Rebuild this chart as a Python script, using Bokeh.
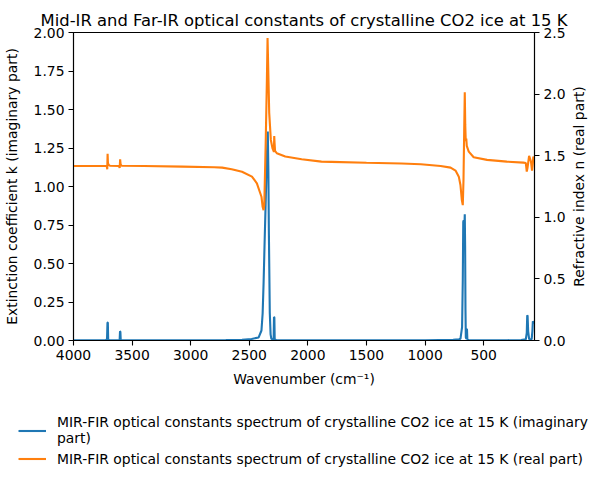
import math
from bokeh.plotting import figure
from bokeh.layouts import column, row
from bokeh.models import (Range1d, LinearAxis, Legend, LegendItem, FixedTicker,
                          PrintfTickFormatter, Label)
from bokeh.embed import file_html
from bokeh.resources import INLINE

title_text = "Mid-IR and Far-IR optical constants of crystalline CO2 ice at 15 K"
x_label = "Wavenumber (cm\u207b\u00b9)"
k_label = "Extinction coefficient k (imaginary part)"
n_label = "Refractive index n (real part)"
k_legend = "MIR-FIR optical constants spectrum of crystalline CO2 ice at 15 K (imaginary\npart)"
n_legend = "MIR-FIR optical constants spectrum of crystalline CO2 ice at 15 K (real part)"

x_ticks = [4000, 3500, 3000, 2500, 2000, 1500, 1000, 500]
k_ticks = [0.0, 0.25, 0.5, 0.75, 1.0, 1.25, 1.5, 1.75, 2.0]
n_ticks = [0.0, 0.5, 1.0, 1.5, 2.0, 2.5]

# imaginary part k (left axis)
wn_k = [4000, 3800, 3725, 3714, 3710, 3707, 3704, 3695, 3612, 3606, 3603, 3600, 3597, 3590,
        3000, 2700, 2562, 2480, 2420, 2396, 2386, 2378, 2370, 2359, 2350, 2342, 2337, 2333,
        2325, 2318, 2312, 2300, 2292, 2289, 2286, 2283, 2270, 2000, 1000, 760, 710, 698,
        684, 678, 674, 670, 666, 661, 658, 655, 652, 647, 645, 642, 639, 630, 300, 180,
        140, 132, 128, 125, 120, 112, 100, 90, 84, 80, 76, 70, 66]
k_vals = [0.002, 0.002, 0.003, 0.008, 0.117, 0.117, 0.006, 0.002, 0.002, 0.006, 0.059, 0.057, 0.004, 0.002,
          0.002, 0.003, 0.005, 0.010, 0.020, 0.065, 0.175, 0.37, 0.61, 0.93, 1.19, 1.357, 1.10, 0.72,
          0.18, 0.04, 0.012, 0.006, 0.008, 0.152, 0.150, 0.006, 0.003, 0.002, 0.002, 0.004, 0.008, 0.011,
          0.087, 0.39, 0.77, 0.78, 0.70, 0.819, 0.61, 0.20, 0.02, 0.01, 0.076, 0.07, 0.008, 0.003, 0.002, 0.003,
          0.008, 0.05, 0.163, 0.16, 0.06, 0.01, 0.006, 0.01, 0.06, 0.124, 0.12, 0.115, 0.11]

# real part n (right axis)
wn_n = [4000, 3800, 3720, 3714, 3712, 3709, 3706, 3700, 3690, 3612, 3606, 3602, 3598, 3590,
        3400, 3070, 2800, 2731, 2650, 2562, 2477, 2435, 2396, 2386, 2378, 2372, 2360, 2350,
        2344, 2338, 2330, 2316, 2302, 2293, 2290, 2287, 2284, 2280, 2265, 2193, 2053, 1884,
        1800, 1500, 1200, 1036, 867, 782, 740, 712, 698, 686, 678, 672, 666, 661, 657, 653,
        650, 648, 644, 627, 585, 471, 302, 161, 140, 132, 126, 112, 102, 96, 87, 80, 76, 70, 66]
n_vals = [1.417, 1.417, 1.418, 1.405, 1.39, 1.515, 1.44, 1.425, 1.419, 1.416, 1.40, 1.471, 1.43, 1.418,
          1.416, 1.411, 1.406, 1.403, 1.39, 1.370, 1.33, 1.276, 1.167, 1.085, 1.058, 1.10, 1.60, 2.10,
          2.456, 2.20, 1.85, 1.628, 1.56, 1.54, 1.53, 1.66, 1.60, 1.54, 1.52, 1.493, 1.471, 1.452,
          1.450, 1.443, 1.437, 1.430, 1.417, 1.403, 1.379, 1.33, 1.262, 1.14, 1.099, 1.30, 1.70, 2.014, 1.75, 1.628,
          1.62, 1.64, 1.58, 1.533, 1.487, 1.466, 1.452, 1.444, 1.44, 1.371, 1.40, 1.498, 1.47, 1.452, 1.379, 1.44,
          1.493, 1.47, 1.45]

FONT = "DejaVu Sans"
TICK = "13.9px"
BLUE = "#1f77b4"
ORANGE = "#ff7f0e"

MAIN_H = 400

p = figure(width=568, height=MAIN_H, output_backend="svg", toolbar_location=None,
           x_range=Range1d(4000, 66), y_range=Range1d(0, 2),
           min_border_left=70, min_border_right=34, min_border_top=32, min_border_bottom=60,
           title=title_text)
p.frame_align = False
p.extra_y_ranges = {"n": Range1d(0, 2.5)}

p.title.text_font = FONT
p.title.text_font_size = "16.4px"
p.title.text_font_style = "normal"
p.title.text_color = "black"
p.title.align = "center"
p.title.standoff = 5

p.xgrid.visible = False
p.ygrid.visible = False
p.outline_line_color = "black"
p.outline_line_alpha = 1
p.outline_line_width = 1.1
p.background_fill_color = "white"
p.border_fill_color = "white"


def style(ax):
    ax.axis_line_color = "black"
    ax.axis_line_width = 1.1
    ax.major_tick_line_color = "black"
    ax.major_tick_line_width = 1.1
    ax.major_tick_out = 5
    ax.major_tick_in = 0
    ax.minor_tick_line_color = None
    ax.major_label_text_font = FONT
    ax.major_label_text_font_size = TICK
    ax.major_label_text_color = "black"
    ax.major_label_standoff = 4
    ax.axis_label_text_font = FONT
    ax.axis_label_text_font_size = TICK
    ax.axis_label_text_font_style = "normal"
    ax.axis_label_text_color = "black"
    ax.axis_label_standoff = 8


p.xaxis.ticker = FixedTicker(ticks=x_ticks)
p.xaxis.formatter = PrintfTickFormatter(format="%d")
p.xaxis.axis_label = x_label
p.yaxis.ticker = FixedTicker(ticks=k_ticks)
p.yaxis.formatter = PrintfTickFormatter(format="%.2f")
p.yaxis.axis_label = k_label
style(p.xaxis[0])
style(p.yaxis[0])
p.yaxis[0].axis_label_standoff = 11

ax_r = LinearAxis(y_range_name="n", ticker=FixedTicker(ticks=n_ticks),
                  formatter=PrintfTickFormatter(format="%.1f"))
style(ax_r)
p.add_layout(ax_r, "right")

p.line(wn_k, k_vals, line_color=BLUE, line_width=2.1)
p.line(wn_n, n_vals, line_color=ORANGE, line_width=2.1, y_range_name="n")

# narrow strip on the right carrying the right-axis title (reads bottom to top)
rf = figure(width=30, height=MAIN_H, output_backend="svg", toolbar_location=None,
            x_range=Range1d(0, 1), y_range=Range1d(0, 1),
            x_axis_type=None, y_axis_type=None,
            min_border_left=0, min_border_right=0, min_border_top=0, min_border_bottom=0)
rf.frame_align = False
rf.xgrid.visible = False
rf.ygrid.visible = False
rf.outline_line_color = None
rf.border_fill_color = "white"
rf.add_layout(Label(x=10, y=MAIN_H - 186, x_units="screen", y_units="screen",
                    text=n_label, angle=math.pi / 2, text_align="center",
                    text_baseline="middle", text_font=FONT, text_font_size=TICK,
                    text_color="black"))

# legend strip below the chart (lines drawn outside its visible range)
LEG_H = 72
lf = figure(width=598, height=LEG_H, output_backend="svg", toolbar_location=None,
            x_range=Range1d(0, 1), y_range=Range1d(0, 1),
            x_axis_type=None, y_axis_type=None,
            min_border_left=0, min_border_right=0, min_border_top=0, min_border_bottom=0)
lf.frame_align = False
lf.xgrid.visible = False
lf.ygrid.visible = False
lf.outline_line_color = None
lf.border_fill_color = "white"
lk = lf.line(wn_k, k_vals, line_color=BLUE, line_width=2.1)
ln = lf.line(wn_n, n_vals, line_color=ORANGE, line_width=2.1)

legend = Legend(items=[LegendItem(label=k_legend, renderers=[lk]),
                       LegendItem(label=n_legend, renderers=[ln])],
                location=(18, 5))
legend.label_text_font = FONT
legend.label_text_font_size = TICK
legend.label_text_color = "black"
legend.glyph_width = 28
legend.glyph_height = 17
legend.label_height = 17
legend.label_standoff = 11
legend.padding = 0
legend.margin = 0
legend.spacing = 4
legend.border_line_alpha = 0
legend.background_fill_alpha = 0
lf.add_layout(legend)

layout = column(row(p, rf, spacing=0), lf, spacing=0)
open("out.html", "w").write(file_html(layout, INLINE))
